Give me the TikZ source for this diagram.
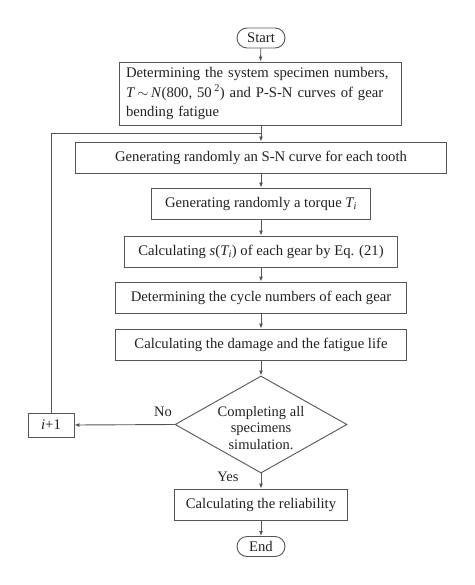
\documentclass[tikz,border=0pt]{standalone}
\usepackage{fontspec}
\setmainfont{Liberation Serif}
\usetikzlibrary{shapes.geometric,arrows.meta}
\definecolor{linec}{HTML}{555555}
\definecolor{txt}{HTML}{222222}
\begin{document}
\begin{tikzpicture}[x=1pt,y=-1pt,
  every node/.style={text=txt},
  box/.style={draw=linec, line width=0.9pt, fill=white, minimum height=31pt, inner sep=0pt, font=\fontsize{14.7}{19.5}\selectfont},
  term/.style={draw=linec, line width=0.9pt, fill=white, rounded corners=10pt, minimum width=48pt, minimum height=20pt, inner sep=0pt, font=\fontsize{14.7}{19}\selectfont},
  dia/.style={draw=linec, line width=0.9pt, fill=white, diamond, minimum width=172pt, minimum height=97pt, inner sep=0pt},
  lbl/.style={font=\fontsize{14.5}{19}\selectfont, inner sep=0pt},
  arr/.style={draw=linec, line width=0.9pt, -{Latex[length=5pt,width=4pt]}},
  ln/.style={draw=linec, line width=0.9pt}]
\useasboundingbox (0,0) rectangle (474,585);
\node[term] (start) at (261,38) {Start};
\node[box, minimum width=282pt, minimum height=63pt, text width=268pt, align=left] (b1) at (260,93.5)
  {Determining the system specimen numbers,\\ \textit{T}\,$\sim$\,\textit{N}(800, 50\,\textsuperscript{2}) and P-S-N curves of gear\\ bending fatigue};
\node[box, minimum width=371pt] (b2) at (261,157.5) {Generating randomly an S-N curve for each tooth};
\node[box, minimum width=219pt] (b3) at (261,203.5) {Generating randomly a torque \textit{T\textsubscript{i}}};
\node[box, minimum width=273pt] (b4) at (261,251.5) {Calculating \textit{s}(\textit{T\textsubscript{i}}) of each gear by Eq. (21)};
\node[box, minimum width=291pt] (b5) at (261,297.5) {Determining the cycle numbers of each gear};
\node[box, minimum width=291pt] (b6) at (261,344.5) {Calculating the damage and the fatigue life};
\node[dia] (dec) at (261,424.5) {};
\node[lbl, align=center, font=\fontsize{14.5}{16.5}\selectfont] (dect) at (261,428) {Completing all\\ specimens\\ simulation.};
\node[box, minimum width=46pt, minimum height=24pt] (inc) at (51,425) {\textit{i}+1};
\node[box, minimum width=173pt] (b7) at (261,504.5) {Calculating the reliability};
\node[term] (end) at (261,546.5) {End};
\coordinate (join) at (261,133);
\node[lbl] (no) at (163,412) {No};
\node[lbl] (yes) at (228,477) {Yes};
\draw[arr] (start) -- (b1);
\draw[arr] (b1.south -| join) -- (b2);
\draw[ln] (inc.north) |- (join);
\draw[arr] (b2) -- (b3);
\draw[arr] (b3) -- (b4);
\draw[arr] (b4) -- (b5);
\draw[arr] (b5) -- (b6);
\draw[arr] (b6) -- (dec);
\draw[arr] (dec) -- (b7);
\draw[arr] (b7) -- (end);
\draw[arr] (dec.west) -- (inc.east);
\end{tikzpicture}
\end{document}
